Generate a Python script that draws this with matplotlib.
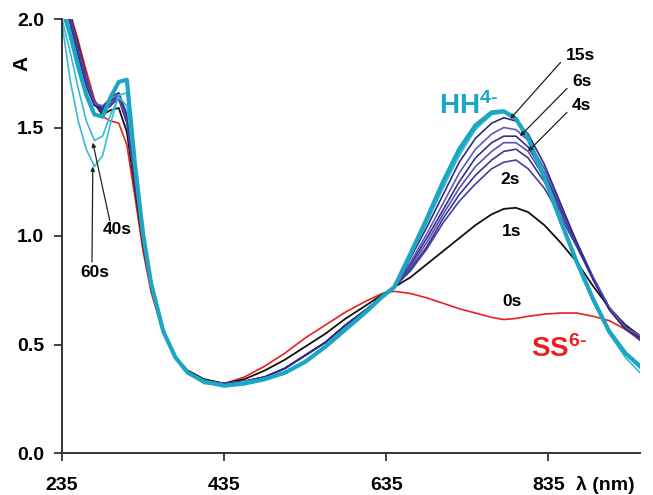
import matplotlib
matplotlib.use("Agg")
import matplotlib.pyplot as plt

plt.rcParams['font.family'] = ['Liberation Sans', 'DejaVu Sans']
plt.rcParams['mathtext.fontset'] = 'custom'
plt.rcParams['mathtext.rm'] = 'Liberation Sans:bold'
plt.rcParams['mathtext.bf'] = 'Liberation Sans:bold'
plt.rcParams['mathtext.default'] = 'bf'

# wavelength grid (nm)
wl = [235, 245, 255, 265, 275, 285, 295, 305, 315, 325, 335, 345, 360, 375, 390, 410,
      435, 460, 485, 510, 535, 560, 585, 610, 630, 645,
      665, 685, 705, 725, 745, 765, 780, 795, 810, 830, 850, 870, 890, 910, 930, 948]

s0 = [2.12, 2.03, 1.90, 1.76, 1.63, 1.55, 1.53, 1.52, 1.42, 1.18, 0.93, 0.74, 0.55, 0.44, 0.38, 0.34,
      0.32, 0.35, 0.40, 0.46, 0.53, 0.59, 0.65, 0.70, 0.735, 0.745,
      0.735, 0.715, 0.69, 0.665, 0.645, 0.625, 0.615, 0.62, 0.63, 0.64, 0.645, 0.645, 0.63, 0.61, 0.57, 0.52]
s1 = [2.12, 2.02, 1.88, 1.73, 1.61, 1.56, 1.58, 1.59, 1.48, 1.22, 0.96, 0.76, 0.56, 0.44, 0.38, 0.34,
      0.32, 0.34, 0.38, 0.43, 0.49, 0.55, 0.62, 0.68, 0.73, 0.765,
      0.81, 0.87, 0.93, 0.99, 1.05, 1.10, 1.125, 1.13, 1.11, 1.05, 0.97, 0.88, 0.77, 0.67, 0.59, 0.54]
s2 = [2.12, 2.02, 1.87, 1.73, 1.62, 1.58, 1.61, 1.63, 1.52, 1.24, 0.97, 0.77, 0.56, 0.44, 0.37, 0.33,
      0.32, 0.33, 0.35, 0.39, 0.45, 0.51, 0.59, 0.66, 0.72, 0.765,
      0.84, 0.94, 1.06, 1.16, 1.24, 1.31, 1.34, 1.35, 1.31, 1.22, 1.09, 0.95, 0.80, 0.67, 0.58, 0.52]
s3 = [2.12, 2.01, 1.87, 1.72, 1.61, 1.57, 1.60, 1.64, 1.53, 1.25, 0.98, 0.77, 0.56, 0.44, 0.37, 0.33,
      0.32, 0.33, 0.35, 0.39, 0.45, 0.51, 0.59, 0.66, 0.72, 0.765,
      0.85, 0.95, 1.08, 1.19, 1.28, 1.35, 1.39, 1.40, 1.36, 1.25, 1.11, 0.96, 0.81, 0.67, 0.58, 0.53]
s4 = [2.11, 2.01, 1.86, 1.72, 1.62, 1.59, 1.62, 1.64, 1.54, 1.26, 0.98, 0.77, 0.56, 0.44, 0.37, 0.33,
      0.32, 0.33, 0.35, 0.39, 0.45, 0.51, 0.59, 0.66, 0.72, 0.765,
      0.86, 0.97, 1.10, 1.22, 1.32, 1.39, 1.43, 1.43, 1.39, 1.27, 1.12, 0.97, 0.81, 0.67, 0.58, 0.53]
s6 = [2.11, 2.00, 1.85, 1.71, 1.61, 1.58, 1.62, 1.65, 1.55, 1.26, 0.98, 0.77, 0.56, 0.44, 0.37, 0.33,
      0.32, 0.33, 0.35, 0.39, 0.45, 0.51, 0.59, 0.66, 0.72, 0.765,
      0.87, 0.99, 1.12, 1.25, 1.36, 1.43, 1.46, 1.46, 1.41, 1.29, 1.13, 0.97, 0.81, 0.67, 0.58, 0.54]
s8 = [2.10, 1.99, 1.84, 1.70, 1.61, 1.60, 1.63, 1.65, 1.55, 1.27, 0.99, 0.78, 0.56, 0.44, 0.37, 0.33,
      0.32, 0.33, 0.35, 0.39, 0.45, 0.51, 0.59, 0.66, 0.72, 0.765,
      0.88, 1.01, 1.15, 1.29, 1.40, 1.47, 1.50, 1.49, 1.44, 1.31, 1.14, 0.97, 0.81, 0.67, 0.58, 0.54]
s15 = [2.10, 1.98, 1.83, 1.69, 1.60, 1.59, 1.64, 1.66, 1.56, 1.28, 0.99, 0.78, 0.56, 0.44, 0.37, 0.33,
       0.32, 0.33, 0.35, 0.39, 0.45, 0.51, 0.59, 0.66, 0.72, 0.765,
       0.90, 1.04, 1.19, 1.34, 1.45, 1.52, 1.545, 1.53, 1.47, 1.33, 1.15, 0.97, 0.80, 0.66, 0.57, 0.53]
s20 = [2.05, 1.93, 1.78, 1.65, 1.56, 1.55, 1.64, 1.71, 1.72, 1.33, 1.01, 0.78, 0.56, 0.44, 0.37, 0.33,
       0.31, 0.32, 0.34, 0.37, 0.42, 0.49, 0.57, 0.65, 0.72, 0.765,
       0.92, 1.08, 1.25, 1.40, 1.51, 1.57, 1.575, 1.54, 1.45, 1.27, 1.07, 0.88, 0.71, 0.56, 0.46, 0.40]
s40 = [2.00, 1.85, 1.68, 1.53, 1.44, 1.46, 1.56, 1.64, 1.60, 1.30, 1.00, 0.78, 0.56, 0.44, 0.37, 0.33,
       0.31, 0.33, 0.34, 0.37, 0.42, 0.49, 0.57, 0.65, 0.72, 0.765,
       0.92, 1.07, 1.23, 1.38, 1.50, 1.56, 1.57, 1.54, 1.45, 1.28, 1.08, 0.89, 0.72, 0.57, 0.46, 0.39]
s60 = [1.98, 1.72, 1.53, 1.40, 1.32, 1.37, 1.52, 1.65, 1.66, 1.34, 1.02, 0.79, 0.57, 0.44, 0.37, 0.32,
       0.31, 0.32, 0.34, 0.37, 0.42, 0.49, 0.57, 0.65, 0.72, 0.765,
       0.91, 1.06, 1.22, 1.37, 1.49, 1.56, 1.57, 1.54, 1.45, 1.28, 1.08, 0.88, 0.70, 0.55, 0.44, 0.37]

series = [
    (s0, '#e8211e', 1.2),
    (s1, '#111111', 1.3),
    (s2, '#4b3d9e', 1.2),
    (s3, '#3a3690', 1.2),
    (s4, '#5a50b0', 1.2),
    (s6, '#33308a', 1.2),
    (s8, '#5f58b8', 1.2),
    (s15, '#2c2d86', 1.2),
    (s40, '#35bcd2', 1.2),
    (s60, '#35bcd2', 1.2),
    (s20, '#1ba6c2', 3.0),
]

xticks = [235, 435, 635, 835]
yticks = [0.0, 0.5, 1.0, 1.5, 2.0]
ytick_labels = ['0.0', '0.5', '1.0', '1.5', '2.0']

fig = plt.figure(figsize=(6.53, 4.95), dpi=100)
ax = fig.add_axes([62/653, 1 - 453/495, (640-62)/653, (453-19)/495])

for vals, col, lw in series:
    ax.plot(wl, vals, color=col, lw=lw, solid_joinstyle='round')

ax.set_xlim(235, 948)
ax.set_ylim(0, 2.0)
ax.set_xticks(xticks)
ax.set_xticklabels([str(t) for t in xticks])
ax.set_yticks(yticks)
ax.set_yticklabels(ytick_labels)
for sp in ['top', 'right']:
    ax.spines[sp].set_visible(False)
for sp in ['left', 'bottom']:
    ax.spines[sp].set_color('#333333')
    ax.spines[sp].set_linewidth(1.4)
ax.tick_params(axis='x', direction='out', length=6, width=1.2, pad=11, labelsize=14, colors='#222222')
ax.tick_params(axis='y', direction='out', length=6, width=1.2, pad=7, labelsize=14, colors='#222222')
for lab in ax.get_xticklabels() + ax.get_yticklabels():
    lab.set_fontweight('bold')
    lab.set_color('black')

fig.text(22/653, 1 - 63/495, 'A', rotation=90, fontsize=15, fontweight='bold', ha='center', va='center')
fig.text(605/653, 1 - 485/495, 'λ (nm)', fontsize=14, fontweight='bold', ha='center', va='center')

# curve labels
lab_kw = dict(fontsize=12.5, fontweight='bold', ha='center', va='center', color='black')
ax.text(788, 1.26, '2s', **lab_kw)
ax.text(790, 1.02, '1s', **lab_kw)
ax.text(790, 0.70, '0s', **lab_kw)
ax.text(874, 1.83, '15s', **lab_kw)
ax.text(876, 1.71, '6s', **lab_kw)
ax.text(876, 1.60, '4s', **lab_kw)
ax.text(303, 1.03, '40s', **lab_kw)
ax.text(275, 0.83, '60s', **lab_kw)

ax.text(736, 1.60, r'HH$^{4\text{-}}$', fontsize=20, fontweight='bold', color='#1ba6c2', ha='center', va='center')
ax.text(848, 0.48, r'SS$^{6\text{-}}$', fontsize=20, fontweight='bold', color='#e8211e', ha='center', va='center')

arr = dict(arrowstyle='-|>', color='#222222', lw=0.9, mutation_scale=6, shrinkA=0, shrinkB=0)
ax.annotate('', xy=(788, 1.54), xytext=(850, 1.80), arrowprops=arr)
ax.annotate('', xy=(800, 1.46), xytext=(858, 1.68), arrowprops=arr)
ax.annotate('', xy=(810, 1.39), xytext=(858, 1.57), arrowprops=arr)
ax.annotate('', xy=(273, 1.43), xytext=(294, 1.07), arrowprops=arr)
ax.annotate('', xy=(273, 1.32), xytext=(272, 0.88), arrowprops=arr)

fig.savefig('out.png', dpi=100)
